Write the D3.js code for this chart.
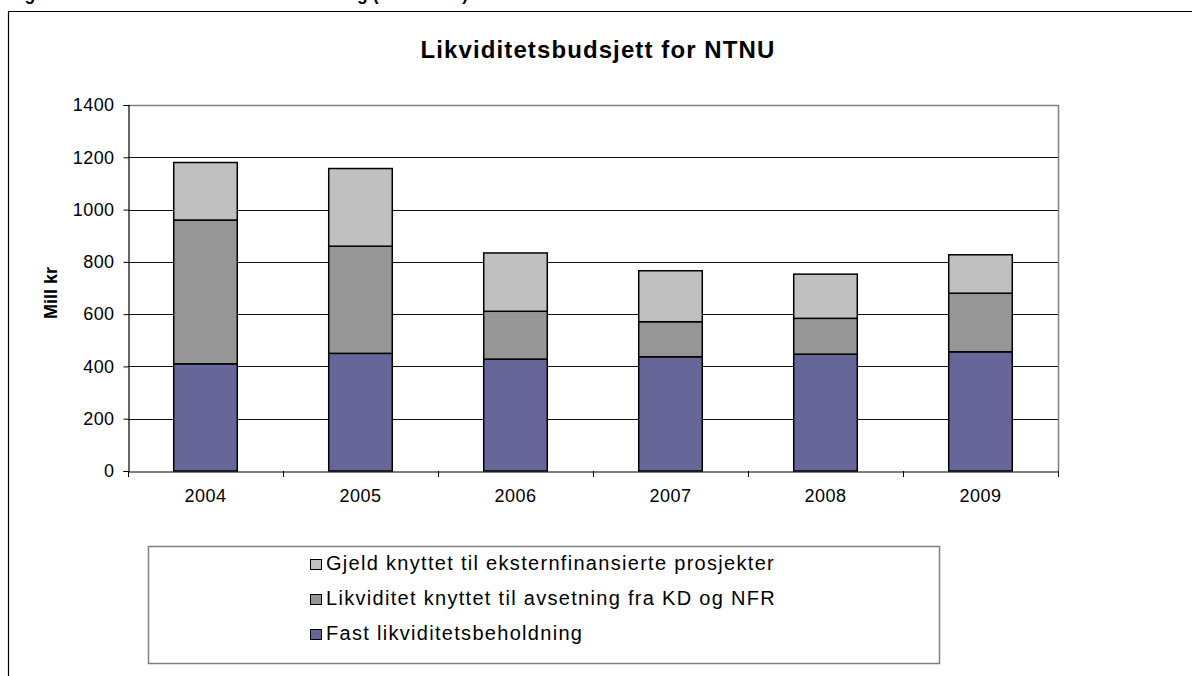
<!DOCTYPE html>
<html>
<head>
<meta charset="utf-8">
<script src="https://cdn.jsdelivr.net/npm/d3@7"></script>
<style>
  body { margin: 0; background: #fff; }
  svg { display: block; font-family: "Liberation Sans", Arial, sans-serif; }
</style>
</head>
<body>
<div id="content"></div>
<script>
var width = 1192;
var height = 676;

// data
var years = ["2004", "2005", "2006", "2007", "2008", "2009"];
var fastBeholdning = [410, 450, 428, 437, 447, 456];
var avsetning = [550, 410, 183, 134, 137, 224];
var eksternGjeld = [220, 297, 223, 195, 169, 147];
var yTicks = [0, 200, 400, 600, 800, 1000, 1200, 1400];

var seriesNames = [
    "Fast likviditetsbeholdning",
    "Likviditet knyttet til avsetning fra KD og NFR",
    "Gjeld knyttet til eksternfinansierte prosjekter"
];
var colors = ["#666699", "#969696", "#c0c0c0"];

var plot = { left: 128, right: 1058, top: 105, bottom: 471 };

var svg = d3.select("#content").append("svg")
    .attr("width", width)
    .attr("height", height);

svg.append("rect").attr("width", width).attr("height", height).attr("fill", "#fff");

// caption, cut off by the crop at the top like in the original
svg.append("text")
    .attr("x", 9)
    .attr("y", 0)
    .style("font-size", "17.5px")
    .style("font-weight", "bold")
    .text("Figur 5: NTNUs totale likviditetsbeholdning (2004-2009)");

// chart frame (runs off right and bottom)
svg.append("path")
    .attr("d", `M8.5,${height + 2} V11.5 H${width + 2}`)
    .attr("fill", "none")
    .attr("stroke", "#000")
    .attr("stroke-width", 1.2);

var x = d3.scaleBand()
    .domain(years)
    .range([plot.left, plot.right])
    .paddingInner(0.59)
    .paddingOuter(0.295);

var y = d3.scaleLinear()
    .domain([0, 1400])
    .range([plot.bottom, plot.top]);

// gridlines
svg.append("g")
    .selectAll("line")
    .data(yTicks.filter(d => d > 0 && d < 1400))
    .enter()
    .append("line")
    .attr("x1", plot.left)
    .attr("x2", plot.right)
    .attr("y1", d => Math.round(y(d)) + 0.5)
    .attr("y2", d => Math.round(y(d)) + 0.5)
    .attr("stroke", "#111")
    .attr("stroke-width", 1);

// plot area border top / right
svg.append("path")
    .attr("d", `M${plot.left},${plot.top + 0.5} H${plot.right + 0.5} V${plot.bottom}`)
    .attr("fill", "none")
    .attr("stroke", "#808080")
    .attr("stroke-width", 1.5);

var rows = years.map((yr, i) => ({ year: yr, 0: fastBeholdning[i], 1: avsetning[i], 2: eksternGjeld[i] }));
var stacked = d3.stack().keys([0, 1, 2])(rows);

svg.append("g")
    .selectAll("g")
    .data(stacked)
    .enter()
    .append("g")
    .attr("fill", (d, i) => colors[i])
    .selectAll("rect")
    .data(d => d)
    .enter()
    .append("rect")
    .attr("x", d => x(d.data.year))
    .attr("y", d => y(d[1]))
    .attr("width", x.bandwidth())
    .attr("height", d => y(d[0]) - y(d[1]))
    .attr("stroke", "#000")
    .attr("stroke-width", 1.5);

// y axis
var yAxis = svg.append("g")
    .attr("transform", `translate(${plot.left + 0.5},0)`)
    .call(d3.axisLeft(y).tickValues(yTicks).tickFormat(d3.format("d")).tickSize(5).tickPadding(9));
yAxis.select(".domain").attr("stroke", "#000").attr("stroke-width", 1.2);
yAxis.selectAll(".tick line").attr("stroke", "#000");
yAxis.selectAll(".tick text")
    .style("font-size", "18px")
    .style("letter-spacing", "0.4px")
    .attr("fill", "#000");

// x axis
var xAxis = svg.append("g")
    .attr("transform", `translate(0,${plot.bottom + 0.5})`)
    .call(d3.axisBottom(x).tickSize(0).tickPadding(18));
xAxis.select(".domain").attr("stroke", "#000").attr("stroke-width", 1.2);
xAxis.selectAll(".tick text")
    .style("font-size", "18px")
    .style("letter-spacing", "0.5px")
    .attr("fill", "#000");

svg.append("g")
    .selectAll("line")
    .data(d3.range(years.length + 1))
    .enter()
    .append("line")
    .attr("x1", i => plot.left + i * x.step() + 0.5)
    .attr("x2", i => plot.left + i * x.step() + 0.5)
    .attr("y1", plot.bottom)
    .attr("y2", plot.bottom + 6)
    .attr("stroke", "#000");

// title
svg.append("text")
    .attr("x", 598)
    .attr("y", 58)
    .attr("text-anchor", "middle")
    .style("font-size", "24px")
    .style("font-weight", "bold")
    .style("letter-spacing", "1.1px")
    .text("Likviditetsbudsjett for NTNU");

// y axis title
svg.append("text")
    .attr("transform", "translate(57,293) rotate(-90)")
    .attr("text-anchor", "middle")
    .style("font-size", "18px")
    .style("font-weight", "bold")
    .text("Mill kr");

// legend
var legend = svg.append("g");
legend.append("rect")
    .attr("x", 148.5)
    .attr("y", 546.5)
    .attr("width", 791)
    .attr("height", 117)
    .attr("fill", "#fff")
    .attr("stroke", "#808080")
    .attr("stroke-width", 1.5);

var legendOrder = [2, 1, 0];
var legendItem = legend.selectAll(".legend-item")
    .data(legendOrder)
    .enter()
    .append("g")
    .attr("class", "legend-item")
    .attr("transform", (d, i) => `translate(310, ${570 + i * 35})`);

legendItem.append("rect")
    .attr("x", 0.5)
    .attr("y", -10.5)
    .attr("width", 11)
    .attr("height", 10)
    .attr("fill", d => colors[d])
    .attr("stroke", "#000");

legendItem.append("text")
    .attr("x", 16)
    .attr("y", 0)
    .style("font-size", "20px")
    .style("letter-spacing", "1.3px")
    .text(d => seriesNames[d]);
</script>
</body>
</html>
